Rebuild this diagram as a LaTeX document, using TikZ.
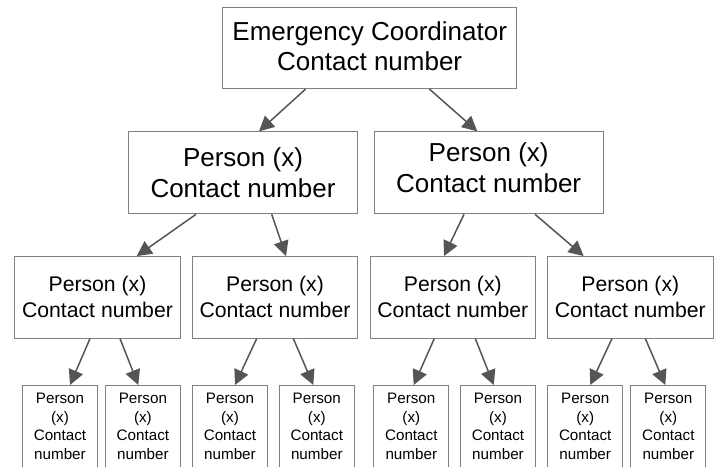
\documentclass[tikz,border=0pt]{standalone}
\usepackage{fontspec}
\setmainfont{Liberation Sans}
\usetikzlibrary{arrows.meta}
\definecolor{boxgray}{RGB}{128,128,128}
\definecolor{arrgray}{RGB}{85,85,85}
\tikzset{
  box/.style={draw=boxgray, line width=1pt, align=center, inner sep=0pt},
  bigbox/.style={box, font=\fontsize{26}{30.6}\selectfont, minimum height=82pt},
  midbox/.style={box, font=\fontsize{21.2}{26}\selectfont, minimum width=165.4pt, minimum height=81.5pt},
  smallbox/.style={box, font=\fontsize{15.2}{18.4}\selectfont, minimum width=74.7pt, anchor=north, inner ysep=8pt, text depth=90pt},
  arr/.style={draw=arrgray, line width=1.5pt, -{Triangle[length=15pt,width=15pt]}}
}
\begin{document}
\begin{tikzpicture}[x=1pt,y=-1pt]
\useasboundingbox (0,0) rectangle (717,466);
\node [bigbox, minimum width=294pt, minimum height=81pt, text depth=4pt] (coord) at (369.7,48) {Emergency Coordinator\\Contact number};
\node [bigbox, minimum width=229.4pt] (p1) at (243,172.8) {Person (x)\\Contact number};
\node [bigbox, minimum width=229.4pt, text depth=11pt] (p2) at (488.7,172.8) {Person (x)\\Contact number};

\node [midbox] (p11) at (97.5,297.3) {Person (x)\\Contact number};
\node [midbox] (p12) at (275,297.3) {Person (x)\\Contact number};
\node [midbox] (p21) at (452.8,297.3) {Person (x)\\Contact number};
\node [midbox] (p22) at (630.3,297.3) {Person (x)\\Contact number};

\node [smallbox] (p111) at (60,385) {Person\\(x)\\Contact\\number};
\node [smallbox] (p112) at (142.9,385) {Person\\(x)\\Contact\\number};
\node [smallbox] (p121) at (230,385) {Person\\(x)\\Contact\\number};
\node [smallbox] (p122) at (316.8,385) {Person\\(x)\\Contact\\number};
\node [smallbox] (p211) at (411.3,385) {Person\\(x)\\Contact\\number};
\node [smallbox] (p212) at (498,385) {Person\\(x)\\Contact\\number};
\node [smallbox] (p221) at (585.2,385) {Person\\(x)\\Contact\\number};
\node [smallbox] (p222) at (668.3,385) {Person\\(x)\\Contact\\number};

\draw [arr] ([xshift=-64pt]coord.south) -- ([xshift=16pt]p1.north);
\draw [arr] ([xshift=59.6pt]coord.south) -- ([xshift=-11.4pt]p2.north);
\draw [arr] ([xshift=-47pt]p1.south) -- ([xshift=39.2pt]p11.north);
\draw [arr] ([xshift=28.7pt]p1.south) -- ([xshift=11pt]p12.north);
\draw [arr] ([xshift=-24.7pt]p2.south) -- ([xshift=-8.8pt]p21.north);
\draw [arr] ([xshift=46.3pt]p2.south) -- ([xshift=-46.6pt]p22.north);

\draw [arr] ([xshift=-7.5pt]p11.south) -- ([xshift=10pt]p111.north);
\draw [arr] ([xshift=22.5pt]p11.south) -- ([xshift=-4.6pt]p112.north);
\draw [arr] ([xshift=-18.3pt]p12.south) -- ([xshift=5pt]p121.north);
\draw [arr] ([xshift=18.3pt]p12.south) -- ([xshift=-3.5pt]p122.north);
\draw [arr] ([xshift=-18.5pt]p21.south) -- ([xshift=2.4pt]p211.north);
\draw [arr] ([xshift=22.5pt]p21.south) -- ([xshift=-4.3pt]p212.north);
\draw [arr] ([xshift=-18.3pt]p22.south) -- ([xshift=5.1pt]p221.north);
\draw [arr] ([xshift=15pt]p22.south) -- ([xshift=-3pt]p222.north);
\end{tikzpicture}
\end{document}
